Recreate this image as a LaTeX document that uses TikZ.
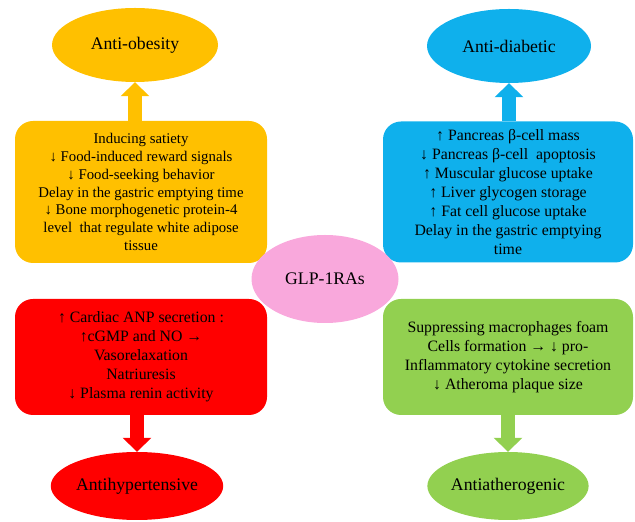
\documentclass[tikz,border=0pt]{standalone}
\usepackage{fontspec}
\setmainfont{Liberation Serif}
\usetikzlibrary{shapes.geometric,arrows.meta}
\definecolor{obescol}{HTML}{FFC000}
\definecolor{diabcol}{HTML}{0FB0EC}
\definecolor{hypercol}{HTML}{FF0000}
\definecolor{athercol}{HTML}{92D050}
\definecolor{glpcol}{HTML}{F9A8DC}
\begin{document}
\begin{tikzpicture}[x=1pt,y=1pt,
            goal/.style={ellipse, inner sep=0pt, minimum height=74pt, font=\fontsize{17.7}{20}\selectfont},
            effect/.style={rounded corners=18pt, inner sep=0pt, align=center, font=\fontsize{15.8}{19}\selectfont},
            bigarrow/.style={line width=14pt, -{Triangle[width=28pt,length=14pt]}}]
            \useasboundingbox (0,0) rectangle (635,522);
            \node [goal, fill=obescol, minimum width=166pt] (obes) at (135,477) {Anti-obesity};
            \node [goal, fill=diabcol, minimum width=164pt] (diab) at (509,476) {Anti-diabetic};
            \node [goal, fill=hypercol, minimum width=167pt, minimum height=68pt] (hyper) at (137,36) {Antihypertensive};
            \node [goal, fill=athercol, minimum width=161pt, minimum height=68pt] (ather) at (508,36) {Antiatherogenic};
            \node [effect, fill=obescol, minimum width=252pt, minimum height=142pt, font=\fontsize{14.8}{17.8}\selectfont] (obesbox) at (141,330)
                {Inducing satiety\\ ↓ Food-induced reward signals\\ ↓ Food-seeking behavior\\ Delay in the gastric emptying time\\
                ↓ Bone morphogenetic protein-4\\ level~ that regulate white adipose\\ tissue};
            \node [effect, fill=diabcol, minimum width=250pt, minimum height=141pt] (diabbox) at (508,330)
                {↑ Pancreas β-cell mass\\ ↓ Pancreas β-cell~ apoptosis\\ ↑ Muscular glucose uptake\\ ↑ Liver glycogen storage\\
                ↑ Fat cell glucose uptake\\ Delay in the gastric emptying\\ time};
            \node [effect, fill=hypercol, minimum width=252pt, minimum height=116pt] (hyperbox) at (141,165)
                {↑ Cardiac ANP secretion :\\ ↑cGMP and NO →\\ Vasorelaxation\\ Natriuresis\\ ↓ Plasma renin activity};
            \node [effect, fill=athercol, minimum width=250pt, minimum height=116pt] (atherbox) at (508,165)
                {Suppressing macrophages foam\\ Cells formation → ↓ pro-\\ Inflammatory cytokine secretion\\ ↓ Atheroma plaque size};
            \node [goal, fill=glpcol, minimum width=147pt, minimum height=88pt] (glp) at (325,243) {GLP-1RAs};
            \draw [bigarrow, obescol] (obesbox.north -| obes.south) -- (obes.south);
            \draw [bigarrow, diabcol] (diabbox.north -| diab.south) -- (diab.south);
            \draw [bigarrow, hypercol] (hyperbox.south -| hyper.north) -- (hyper.north);
            \draw [bigarrow, athercol] (atherbox.south -| ather.north) -- (ather.north);
\end{tikzpicture}
\end{document}
